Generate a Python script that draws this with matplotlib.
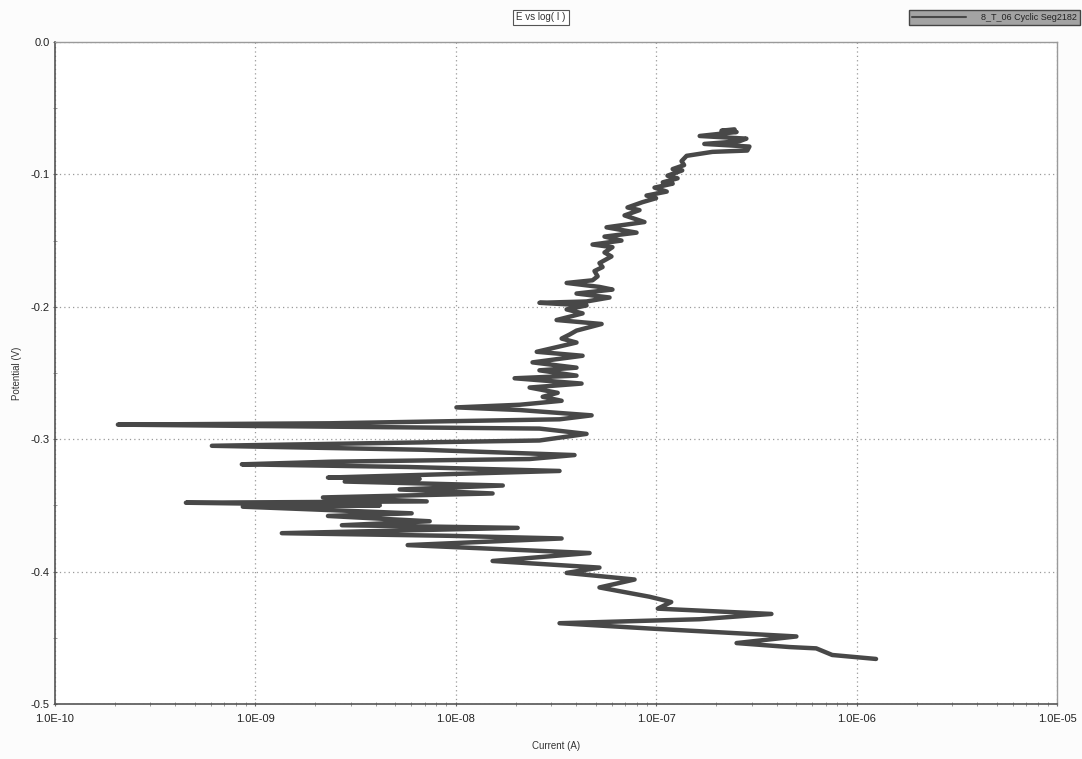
import numpy as np
from matplotlib import pyplot as plt
from matplotlib.ticker import FixedLocator, MultipleLocator, LogLocator, NullFormatter

plt.rcParams['font.family'] = ['Liberation Sans', 'DejaVu Sans']

# cyclic polarisation trace (current in A, potential in V)
current = [
    2.46e-7, 2.12e-7, 2.52e-7, 1.65e-7, 2.82e-7, 2.60e-7, 1.74e-7, 2.92e-7, 2.85e-7, 1.91e-7,
    1.42e-7, 1.34e-7, 1.38e-7, 1.21e-7, 1.35e-7, 1.14e-7, 1.28e-7, 1.08e-7, 1.21e-7, 9.82e-8,
    1.13e-7, 8.96e-8, 1.00e-7, 8.55e-8, 7.20e-8, 8.27e-8, 6.96e-8, 8.75e-8, 5.66e-8, 7.99e-8,
    5.53e-8, 6.72e-8, 4.82e-8, 6.06e-8, 5.53e-8, 5.99e-8, 5.22e-8, 5.41e-8, 4.93e-8, 5.11e-8,
    4.82e-8, 3.58e-8, 5.22e-8, 6.06e-8, 4.01e-8, 5.86e-8, 4.50e-8, 2.62e-8, 4.50e-8, 3.58e-8,
    4.30e-8, 3.19e-8, 5.35e-8, 4.01e-8, 3.70e-8, 3.38e-8, 4.01e-8, 2.54e-8, 4.30e-8, 2.42e-8,
    4.01e-8, 2.62e-8, 4.01e-8, 1.97e-8, 4.25e-8, 2.34e-8, 3.23e-8, 2.72e-8, 3.38e-8, 2.09e-8,
    1.01e-8, 2.09e-8, 4.77e-8, 3.30e-8, 2.36e-9, 2.07e-10, 9.42e-10, 2.62e-8, 4.50e-8, 2.62e-8,
    6.09e-10, 6.86e-9, 3.92e-8, 2.34e-8, 2.41e-9, 8.59e-10, 5.77e-9, 3.30e-8, 2.31e-9, 6.62e-9,
    2.80e-9, 1.72e-8, 5.26e-9, 1.53e-8, 2.18e-9, 7.18e-9, 4.52e-10, 4.19e-9, 8.69e-10, 6.04e-9,
    2.31e-9, 7.43e-9, 2.71e-9, 2.04e-8, 1.36e-9, 9.35e-9, 3.38e-8, 5.77e-9, 4.66e-8, 1.53e-8,
    5.22e-8, 3.58e-8, 7.81e-8, 5.22e-8, 9.27e-8, 1.19e-7, 1.02e-7, 3.76e-7, 1.65e-7, 3.30e-8,
    9.27e-8, 5.01e-7, 2.52e-7, 4.62e-7, 6.29e-7, 7.56e-7, 1.25e-6,
]
potential = [
    -0.066, -0.067, -0.068, -0.071, -0.073, -0.075, -0.077, -0.079, -0.082, -0.083,
    -0.086, -0.090, -0.093, -0.096, -0.097, -0.101, -0.103, -0.106, -0.107, -0.110,
    -0.113, -0.116, -0.118, -0.121, -0.125, -0.127, -0.131, -0.136, -0.140, -0.144,
    -0.147, -0.150, -0.153, -0.155, -0.159, -0.162, -0.167, -0.170, -0.173, -0.177,
    -0.180, -0.182, -0.185, -0.187, -0.190, -0.193, -0.196, -0.197, -0.199, -0.202,
    -0.205, -0.210, -0.213, -0.218, -0.221, -0.224, -0.227, -0.234, -0.237, -0.242,
    -0.246, -0.248, -0.252, -0.254, -0.258, -0.261, -0.265, -0.268, -0.271, -0.274,
    -0.276, -0.278, -0.282, -0.285, -0.288, -0.289, -0.290, -0.292, -0.296, -0.301,
    -0.305, -0.308, -0.312, -0.315, -0.317, -0.319, -0.321, -0.324, -0.329, -0.330,
    -0.332, -0.335, -0.338, -0.341, -0.344, -0.347, -0.348, -0.350, -0.351, -0.356,
    -0.358, -0.362, -0.365, -0.367, -0.371, -0.373, -0.375, -0.380, -0.386, -0.392,
    -0.397, -0.401, -0.406, -0.412, -0.419, -0.423, -0.428, -0.432, -0.436, -0.439,
    -0.443, -0.449, -0.454, -0.457, -0.458, -0.463, -0.466,
]

x_ticks = [1e-10, 1e-9, 1e-8, 1e-7, 1e-6, 1e-5]
x_labels = ['1.0E-10', '1.0E-09', '1.0E-08', '1.0E-07', '1.0E-06', '1.0E-05']
y_ticks = [0.0, -0.1, -0.2, -0.3, -0.4, -0.5]
y_labels = ['0.0', '-0.1', '-0.2', '-0.3', '-0.4', '-0.5']

fig = plt.figure(figsize=(10.82, 7.59), dpi=100)
fig.patch.set_facecolor('#fcfcfc')
ax = fig.add_axes([0.0504, 0.0725, 0.9266, 0.8722])
ax.set_facecolor('white')

ax.plot(current, potential, color='#484848', linewidth=3.2, solid_joinstyle='round',
        solid_capstyle='round', label='8_T_06 Cyclic Seg2182')

ax.set_xscale('log')
ax.set_xlim(1e-10, 1e-5)
ax.set_ylim(-0.5, 0.0)

ax.xaxis.set_major_locator(FixedLocator(x_ticks))
ax.set_xticklabels(x_labels)
ax.xaxis.set_minor_locator(LogLocator(base=10, subs=np.arange(2, 10)))
ax.xaxis.set_minor_formatter(NullFormatter())
ax.yaxis.set_major_locator(FixedLocator(y_ticks))
ax.set_yticklabels(y_labels)
ax.yaxis.set_minor_locator(MultipleLocator(0.05))

ax.tick_params(axis='both', which='major', labelsize=8, length=3, direction='inout',
               color='#666666', labelcolor='#222222')
ax.tick_params(axis='both', which='minor', length=3, direction='inout', color='#888888')
ax.tick_params(axis='x', pad=6)
ax.tick_params(axis='y', pad=2)

ax.grid(True, which='major', linestyle=(0, (1, 2.5)), color='#9a9a9a', linewidth=0.9)
for side in ['left', 'bottom']:
    ax.spines[side].set_color('#555555')
    ax.spines[side].set_linewidth(1.2)
for side in ['top', 'right']:
    ax.spines[side].set_color('#9a9a9a')
    ax.spines[side].set_linewidth(1.0)

ax.set_xlabel('Current (A)', fontsize=7, color='#333333', labelpad=12)
ax.set_ylabel('Potential (V)', fontsize=7, color='#333333', labelpad=6)

fig.text(0.5, 0.977, 'E vs log( I )', fontsize=7, color='#333333', ha='center', va='center',
         bbox=dict(facecolor='white', edgecolor='#555555', boxstyle='square,pad=0.3', linewidth=0.8))

leg = ax.legend(loc='upper right', bbox_to_anchor=(0.998, 0.987), bbox_transform=fig.transFigure,
                fontsize=6.5, frameon=True, fancybox=False, handlelength=6.0, borderpad=0.35,
                handletextpad=1.6, borderaxespad=0)
leg.get_frame().set_facecolor('#a3a3a3')
leg.get_frame().set_edgecolor('#444444')
leg.get_frame().set_alpha(1.0)
for t in leg.get_texts():
    t.set_color('#222222')
for h in leg.get_lines():
    h.set_linewidth(1.5)

fig.savefig('out.png', dpi=100, facecolor=fig.get_facecolor())
